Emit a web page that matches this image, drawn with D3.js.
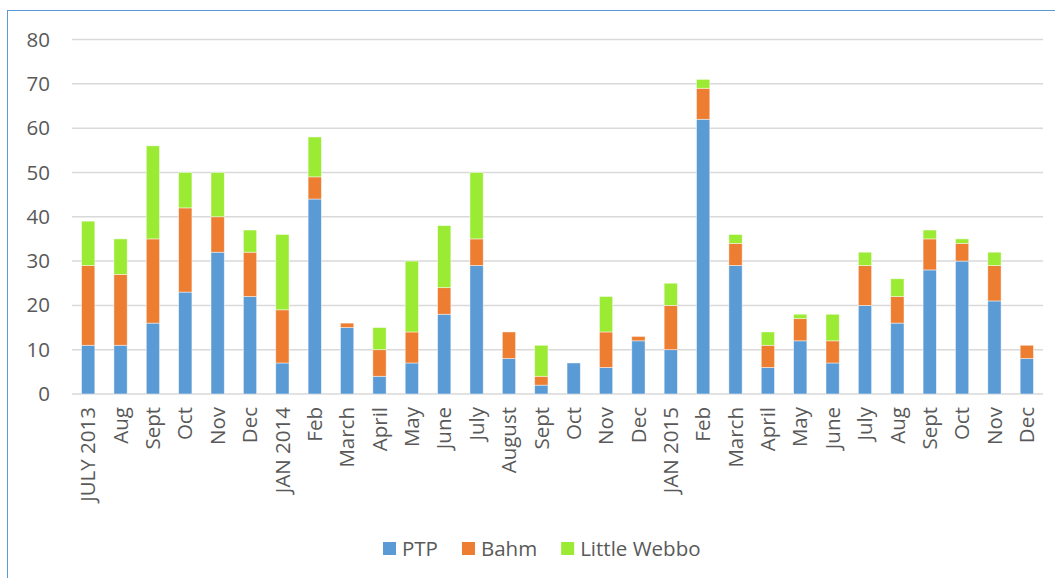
<!DOCTYPE html>
<html>
<head>
<meta charset="utf-8">
<script src="https://cdnjs.cloudflare.com/ajax/libs/d3/7.8.5/d3.min.js"></script>
<style>
  html, body { margin: 0; padding: 0; background: #fff; }
  svg { display: block; font-family: "Open Sans", "Noto Sans", sans-serif; }
</style>
</head>
<body>
<svg id="chart" width="1055" height="578"></svg>
<script>
// Monthly counts, July 2013 – December 2015
const months = ["JULY 2013", "Aug", "Sept", "Oct", "Nov", "Dec", "JAN 2014", "Feb", "March", "April",
  "May", "June", "July", "August", "Sept", "Oct", "Nov", "Dec", "JAN 2015", "Feb",
  "March", "April", "May", "June", "July", "Aug", "Sept", "Oct", "Nov", "Dec"];
const ptp = [11, 11, 16, 23, 32, 22, 7, 44, 15, 4, 7, 18, 29, 8, 2, 7, 6, 12, 10, 62, 29, 6, 12, 7, 20, 16, 28, 30, 21, 8];
const bahm = [18, 16, 19, 19, 8, 10, 12, 5, 1, 6, 7, 6, 6, 6, 2, 0, 8, 1, 10, 7, 5, 5, 5, 5, 9, 6, 7, 4, 8, 3];
const littleWebbo = [10, 8, 21, 8, 10, 5, 17, 9, 0, 5, 16, 14, 15, 0, 7, 0, 8, 0, 5, 2, 2, 3, 1, 6, 3, 4, 2, 1, 3, 0];
const seriesNames = ["PTP", "Bahm", "Little Webbo"];
const seriesColors = ["#5B9BD5", "#ED7D31", "#9BEB34"];
const yTicks = [0, 10, 20, 30, 40, 50, 60, 70, 80];

const svg = d3.select("#chart");
const textColor = "#595959";
const fontSize = "20.5px";

// chart area frame
svg.append("rect")
  .attr("x", 7.5).attr("y", 10.5)
  .attr("width", 1100).attr("height", 600)
  .attr("fill", "none").attr("stroke", "#5B9BD5").attr("stroke-width", 1);

const plot = { left: 72, right: 1043, top: 39.5, bottom: 394 };

const x = d3.scaleBand()
  .domain(d3.range(months.length))
  .range([plot.left, plot.right])
  .paddingInner(0.59)
  .paddingOuter(0.295);

const y = d3.scaleLinear().domain([0, 80]).range([plot.bottom, plot.top]);

// horizontal gridlines
svg.append("g").selectAll("line")
  .data(yTicks)
  .join("line")
  .attr("x1", plot.left).attr("x2", plot.right)
  .attr("y1", d => y(d)).attr("y2", d => y(d))
  .attr("stroke", "#D9D9D9").attr("stroke-width", 1.5);

// y axis labels
const yAxis = svg.append("g")
  .attr("transform", `translate(${plot.left - 12},0)`)
  .call(d3.axisLeft(y).tickValues(yTicks).tickSize(0).tickPadding(10));
yAxis.select(".domain").remove();
yAxis.selectAll("text")
  .attr("fill", textColor)
  .style("font-size", fontSize)
  .style("font-family", "'Open Sans', sans-serif");

// stacked bars
const rows = months.map((m, i) => ({ i, PTP: ptp[i], Bahm: bahm[i], "Little Webbo": littleWebbo[i] }));
const stacked = d3.stack().keys(seriesNames)(rows);

svg.append("g").selectAll("g")
  .data(stacked)
  .join("g")
  .attr("fill", (d, k) => seriesColors[k])
  .selectAll("rect")
  .data(d => d.filter(s => s[1] - s[0] > 0))
  .join("rect")
  .attr("x", d => x(d.data.i))
  .attr("width", x.bandwidth())
  .attr("y", d => y(d[1]))
  .attr("height", d => y(d[0]) - y(d[1]))
  .attr("stroke", "#ffffff")
  .attr("stroke-opacity", 0.6)
  .attr("stroke-width", 0.75);

// x axis labels (rotated)
const xAxis = svg.append("g")
  .attr("transform", `translate(0,${plot.bottom})`)
  .call(d3.axisBottom(x).tickFormat(i => months[i]).tickSize(0).tickPadding(0));
xAxis.select(".domain").remove();
xAxis.selectAll("text")
  .attr("fill", textColor)
  .style("font-size", fontSize)
  .style("font-family", "'Open Sans', sans-serif")
  .attr("text-anchor", "end")
  .attr("dy", "0.35em")
  .attr("transform", "translate(0,13) rotate(-90)")
  .attr("x", 0).attr("y", 0);

// legend
const legend = svg.append("g").attr("transform", "translate(383,542)");
let lx = 0;
seriesNames.forEach((name, k) => {
  const item = legend.append("g").attr("transform", `translate(${lx},0)`);
  item.append("rect").attr("width", 13).attr("height", 13).attr("fill", seriesColors[k]);
  const t = item.append("text")
    .attr("x", 19).attr("y", 13.5)
    .attr("fill", textColor)
    .style("font-size", fontSize)
    .text(name);
  lx += 19 + t.node().getComputedTextLength() + 24;
});
</script>
</body>
</html>
